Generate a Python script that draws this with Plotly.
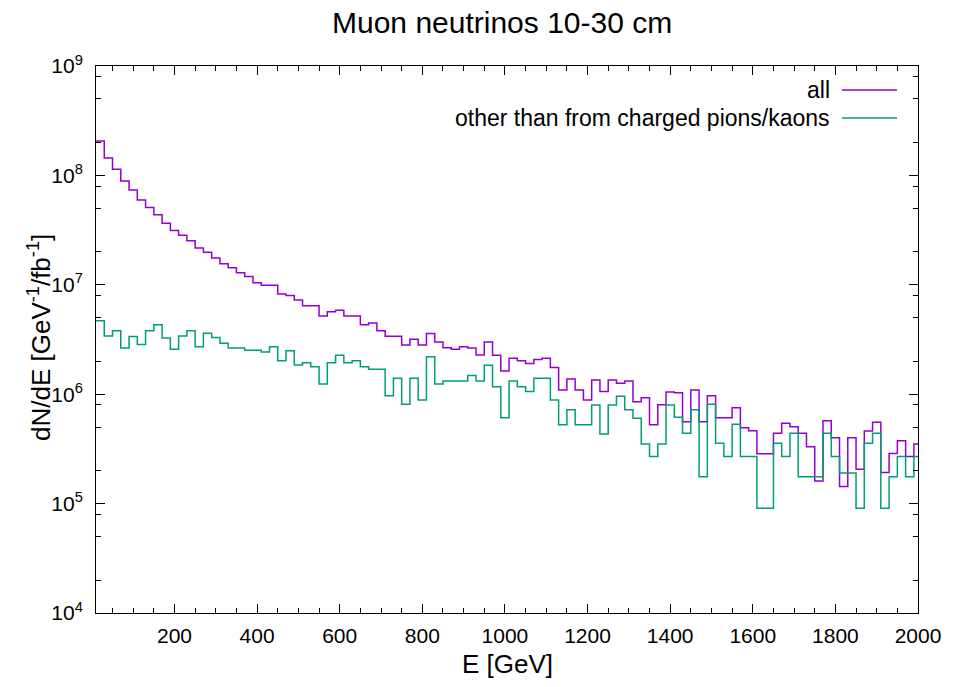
import plotly.graph_objects as go

# ---------------- data ----------------
E_centers = list(range(20, 2001, 20))  # bin centres [GeV], 20 GeV bins
bin_width = 20

all_nu = [
    2.06e8, 1.44e8, 1.14e8, 8.9e7, 7.37e7, 5.96e7, 5.1e7, 4.37e7, 3.65e7, 3.13e7,
    2.83e7, 2.53e7, 2.17e7, 1.98e7, 1.76e7, 1.56e7, 1.43e7, 1.29e7, 1.19e7, 1.045e7,
    9.9e6, 9.9e6, 8.24e6, 8.0e6, 7.26e6, 6.44e6, 6.44e6, 5.19e6, 5.68e6, 5.85e6,
    5.19e6, 5.19e6, 4.32e6, 4.48e6, 3.8e6, 3.38e6, 3.38e6, 2.82e6, 3.18e6, 2.82e6,
    3.58e6, 3.0e6, 2.66e6, 2.57e6, 2.72e6, 2.64e6, 2.28e6, 3.0e6, 2.27e6, 1.63e6,
    2.13e6, 2.02e6, 1.91e6, 2.08e6, 2.13e6, 1.75e6, 1.09e6, 1.38e6, 1.09e6, 8.85e5,
    1.35e6, 1.06e6, 1.35e6, 1.26e6, 1.32e6, 8.55e5, 9.3e5, 5.26e5, 8.0e5, 1.05e6,
    1.03e6, 5.6e5, 1.09e6, 5.6e5, 9.7e5, 6.1e5, 6.1e5, 7.53e5, 4.94e5, 4.64e5,
    2.86e5, 2.86e5, 4.4e5, 5.42e5, 5.05e5, 4.4e5, 3.31e5, 1.61e5, 5.73e5, 4.0e5,
    1.43e5, 4.0e5, 2.06e5, 4.62e5, 5.53e5, 1.92e5, 2.87e5, 3.76e5, 2.69e5, 3.51e5,
]

other_nu = [
    4.70e6, 3.40e6, 3.80e6, 2.64e6, 3.36e6, 2.84e6, 3.80e6, 4.32e6, 3.27e6, 2.57e6,
    3.40e6, 3.80e6, 2.72e6, 3.60e6, 3.29e6, 2.92e6, 2.64e6, 2.64e6, 2.52e6, 2.52e6,
    2.43e6, 2.72e6, 2.02e6, 2.50e6, 1.85e6, 1.94e6, 1.78e6, 1.24e6, 1.94e6, 2.27e6,
    1.94e6, 2.02e6, 1.78e6, 1.69e6, 1.69e6, 9.7e5, 1.40e6, 8.1e5, 1.40e6, 8.85e5,
    2.2e6, 1.24e6, 1.32e6, 1.32e6, 1.32e6, 1.48e6, 1.32e6, 1.84e6, 1.17e6, 6.1e5,
    1.32e6, 1.17e6, 1.06e6, 1.40e6, 1.40e6, 8.85e5, 5.26e5, 7.2e5, 5.26e5, 5.26e5,
    7.97e5, 4.33e5, 7.97e5, 9.6e5, 7.2e5, 6.03e5, 3.51e5, 2.69e5, 3.51e5, 7.97e5,
    6.15e5, 4.4e5, 7.2e5, 1.76e5, 8.1e5, 3.56e5, 2.69e5, 5.31e5, 2.69e5, 2.69e5,
    9.06e4, 9.06e4, 3.56e5, 2.69e5, 4.4e5, 1.76e5, 1.76e5, 1.76e5, 4.4e5, 2.69e5,
    1.9e5, 1.9e5, 9.06e4, 3.56e5, 4.4e5, 9.06e4, 1.76e5, 2.69e5, 1.76e5, 2.69e5,
]

series_names = ["all", "other than from charged pions/kaons"]
series_colors = ["#9400D3", "#009E73"]

x_major_ticks = list(range(200, 2001, 200))
y_exponents = [4, 5, 6, 7, 8, 9]
y_minor_mults = [2, 5, 8]

title_text = "Muon neutrinos 10-30 cm"
x_title = "E [GeV]"
y_title = "dN/dE [GeV<sup>-1</sup>/fb<sup>-1</sup>]"

# ---------------- figure ----------------
FONT = "Liberation Sans, Arial, sans-serif"
W, H = 968, 687
L, R, T, B = 96, 50, 66, 74
PW, PH = W - L - R, H - T - B


def step_xy(vals):
    xs = [c - bin_width / 2 for c in E_centers] + [E_centers[-1] + bin_width / 2]
    ys = list(vals) + [vals[-1]]
    return xs, ys


fig = go.Figure()
for vals, name, col in zip([all_nu, other_nu], series_names, series_colors):
    xs, ys = step_xy(vals)
    fig.add_trace(go.Scatter(x=xs, y=ys, mode="lines", line=dict(color=col, width=1.5, shape="hv"),
                             name=name, showlegend=False))


def px_x(p):
    return (p - L) / PW


def px_y(p):
    return (H - B - p) / PH


# gnuplot-style legend (text left, sample right)
legend_rows = [90, 118]
for name, col, yy in zip(series_names, series_colors, legend_rows):
    fig.add_annotation(x=px_x(832), y=px_y(yy), xref="paper", yref="paper", text=name,
                       showarrow=False, xanchor="right", yanchor="middle",
                       font=dict(family=FONT, size=23, color="black"))
    fig.add_shape(type="line", xref="paper", yref="paper", x0=px_x(842), x1=px_x(897),
                  y0=px_y(yy), y1=px_y(yy), line=dict(color=col, width=1.5))

fig.add_annotation(x=px_x(502), y=px_y(22), xref="paper", yref="paper", text=title_text,
                   showarrow=False, xanchor="center", yanchor="middle",
                   font=dict(family=FONT, size=30, color="black"))
fig.add_annotation(x=px_x(507), y=px_y(664), xref="paper", yref="paper", text=x_title,
                   showarrow=False, xanchor="center", yanchor="middle",
                   font=dict(family=FONT, size=26, color="black"))
fig.add_annotation(x=px_x(39), y=px_y(338), xref="paper", yref="paper", text=y_title,
                   showarrow=False, xanchor="center", yanchor="middle", textangle=-90,
                   font=dict(family=FONT, size=26, color="black"))

fig.update_layout(
    width=W, height=H,
    margin=dict(l=L, r=R, t=T, b=B),
    paper_bgcolor="white", plot_bgcolor="white",
    font=dict(family=FONT, size=21, color="black"),
    showlegend=False,
)

fig.update_xaxes(
    range=[10, 2000], tickmode="array", tickvals=x_major_ticks,
    ticktext=[str(v) for v in x_major_ticks],
    ticks="inside", ticklen=9, tickwidth=1, tickcolor="black",
    showline=True, linecolor="black", linewidth=1, mirror="allticks",
    showgrid=False, zeroline=False,
    minor=dict(ticks="inside", dtick=50, tick0=0, ticklen=5, tickwidth=1, tickcolor="black", showgrid=False),
    tickfont=dict(family=FONT, size=21),
    ticklabelstandoff=4,
)
fig.update_yaxes(
    type="log", range=[4, 9],
    tickmode="array", tickvals=[10 ** e for e in y_exponents],
    ticktext=[f"10<sup>{e}</sup>" for e in y_exponents],
    ticks="inside", ticklen=9, tickwidth=1, tickcolor="black",
    showline=True, linecolor="black", linewidth=1, mirror="allticks",
    showgrid=False, zeroline=False,
    minor=dict(ticks="inside", tickmode="array",
               tickvals=[m * 10 ** e for e in y_exponents[:-1] for m in y_minor_mults],
               ticklen=5, tickwidth=1, tickcolor="black", showgrid=False),
    tickfont=dict(family=FONT, size=21),
    ticklabelstandoff=8,
)

fig.write_html("out.html")
